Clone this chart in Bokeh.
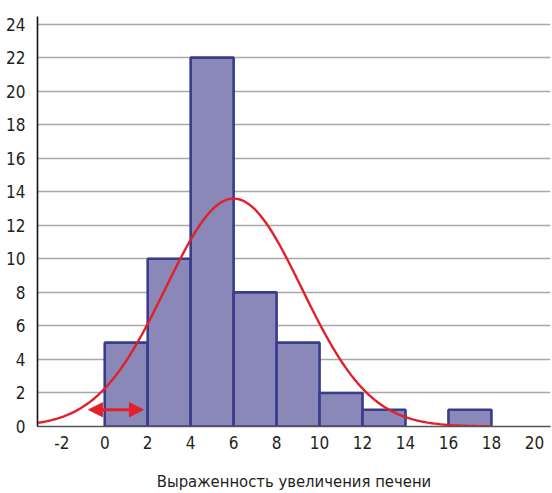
import numpy as np
from bokeh.plotting import figure
from bokeh.models import Range1d, FixedTicker, Arrow, NormalHead, ColumnDataSource
from bokeh.embed import file_html
from bokeh.resources import INLINE

# Data
bin_left = [0, 2, 4, 6, 8, 10, 12, 16]
bin_right = [2, 4, 6, 8, 10, 12, 14, 18]
counts = [5, 10, 22, 8, 5, 2, 1, 1]
x_ticks = [-2, 0, 2, 4, 6, 8, 10, 12, 14, 16, 18, 20]
y_ticks = list(range(0, 26, 2))
x_title = "Выраженность увеличения печени"
# fitted normal curve parameters
fit_mean = 6.0
fit_sd = 3.17
fit_n = 54
fit_binwidth = 2
curve_x_range = (-3.1, 18.0)
arrow_x = [-0.75, 1.8]
arrow_y = 1.0

FONT = "'Liberation Sans Narrow', 'DejaVu Sans Condensed', 'Roboto Condensed', sans-serif"

p = figure(width=552, height=493, output_backend="svg", toolbar_location=None,
           x_range=Range1d(-3.13, 20.75), y_range=Range1d(0, 24.45),
           min_border_left=37, min_border_right=2, min_border_top=16, min_border_bottom=66)
p.outline_line_color = None
p.xgrid.grid_line_color = None
p.ygrid.grid_line_color = "#a8a8a8"
p.ygrid.grid_line_width = 1.6
p.ygrid.ticker = FixedTicker(ticks=y_ticks)

src = ColumnDataSource(dict(left=bin_left, right=bin_right, top=counts, bottom=[0] * len(counts)))
p.quad(left="left", right="right", top="top", bottom="bottom", source=src,
       fill_color="#8988b8", line_color="#383c8c", line_width=2.6)

cx = np.linspace(curve_x_range[0], curve_x_range[1], 300)
cy = fit_n * fit_binwidth / (fit_sd * np.sqrt(2 * np.pi)) * np.exp(-0.5 * ((cx - fit_mean) / fit_sd) ** 2)
p.line(cx, cy, line_color="#e3202a", line_width=2.4)

p.add_layout(Arrow(start=NormalHead(size=14, fill_color="#e3202a", line_color="#e3202a"),
                   end=NormalHead(size=14, fill_color="#e3202a", line_color="#e3202a"),
                   x_start=arrow_x[0], x_end=arrow_x[1], y_start=arrow_y, y_end=arrow_y,
                   line_color="#e3202a", line_width=3))

xa = p.xaxis[0]
xa.ticker = FixedTicker(ticks=x_ticks)
xa.major_label_overrides = {t: str(t) for t in x_ticks}
xa.major_tick_line_color = None
xa.minor_tick_line_color = None
xa.axis_line_color = "#555555"
xa.axis_line_width = 1.6
xa.major_label_text_font = FONT
xa.major_label_text_font_size = "17px"
xa.major_label_text_color = "#231f20"
xa.major_label_standoff = 3
xa.axis_label = x_title
xa.axis_label_text_font = FONT
xa.axis_label_text_font_size = "16.5px"
xa.axis_label_text_font_style = "normal"
xa.axis_label_text_color = "#231f20"
xa.axis_label_standoff = 20

ya = p.yaxis[0]
ya.ticker = FixedTicker(ticks=y_ticks)
ya.major_tick_line_color = None
ya.minor_tick_line_color = None
ya.axis_line_color = "#111111"
ya.axis_line_width = 1.6
ya.major_label_text_font = FONT
ya.major_label_text_font_size = "17px"
ya.major_label_text_color = "#231f20"
ya.major_label_standoff = 6

open("out.html", "w").write(file_html(p, INLINE))
